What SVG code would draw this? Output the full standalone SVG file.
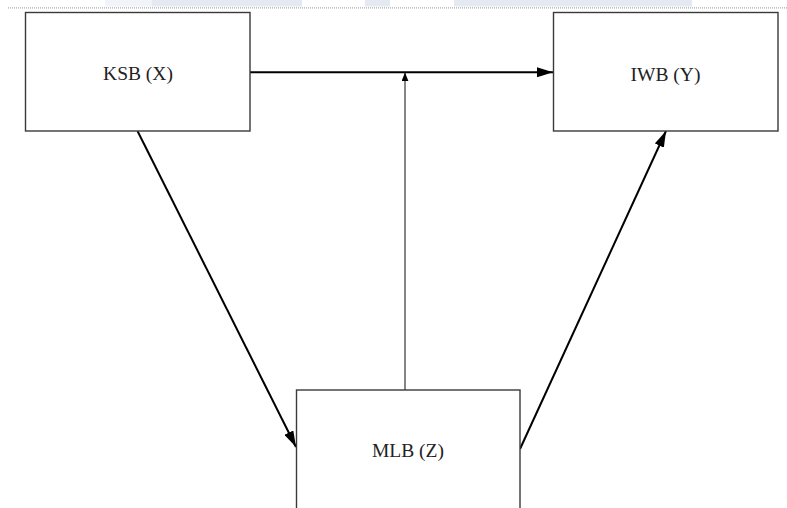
<svg xmlns="http://www.w3.org/2000/svg" width="787" height="508" viewBox="0 0 787 508">
<defs>
<style>
.box{fill:#fff;stroke:#3a3a3a;stroke-width:1.4}
.lbl{font-family:"Liberation Serif","Times New Roman",serif;font-size:19.5px;fill:#222;text-anchor:middle}
.thick{stroke:#000;stroke-width:2;fill:none}
.thin{stroke:#222;stroke-width:1.1;fill:none}
.band{fill:#e4e9f2}
</style>
<marker id="ah" viewBox="0 0 16 10" refX="16" refY="5" markerWidth="16" markerHeight="10" markerUnits="userSpaceOnUse" orient="auto">
<path d="M0,0 L16,5 L0,10 z" fill="#000"/>
</marker>
<marker id="ahs" viewBox="0 0 10 8" refX="10" refY="4" markerWidth="9" markerHeight="7" markerUnits="userSpaceOnUse" orient="auto">
<path d="M0,0 L10,4 L0,8 z" fill="#000"/>
</marker>
</defs>
<rect width="787" height="508" fill="#fff"/>
<g id="watermark">
<rect x="105" y="0" width="47" height="6.5" fill="#f1f4f9"/>
<rect class="band" x="152" y="0" width="150" height="6.5"/>
<rect class="band" x="365" y="0" width="25" height="6.5"/>
<rect class="band" x="454" y="0" width="238" height="6.5"/>
<line x1="8" y1="7.8" x2="787" y2="7.8" stroke="#aaa" stroke-width="1.2" stroke-dasharray="1,1"/>
</g>
<g id="connectors">
<line class="thick" x1="250" y1="72.3" x2="553" y2="72.3" marker-end="url(#ah)"/>
<line class="thin" x1="405" y1="390" x2="405" y2="72.5" marker-end="url(#ahs)"/>
<line class="thick" x1="137.5" y1="131" x2="296" y2="447" marker-end="url(#ah)"/>
<line class="thick" x1="520" y1="449" x2="666" y2="131" marker-end="url(#ah)"/>
</g>
<g id="ksb">
<rect class="box" x="25.5" y="12.5" width="224.5" height="118.5"/>
<text class="lbl" x="138" y="80">KSB (X)</text>
</g>
<g id="iwb">
<rect class="box" x="553.5" y="12.5" width="224.5" height="118.5"/>
<text class="lbl" x="665.5" y="80.5">IWB (Y)</text>
</g>
<g id="mlb">
<rect class="box" x="296.5" y="390" width="223.5" height="130"/>
<text class="lbl" x="408" y="457">MLB (Z)</text>
</g>
</svg>
